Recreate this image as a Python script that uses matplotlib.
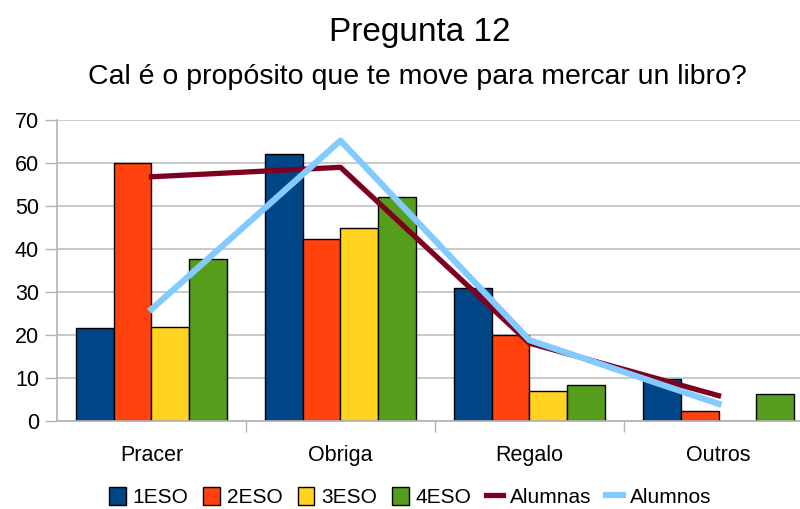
import numpy as np
import matplotlib
matplotlib.use("Agg")
import matplotlib.pyplot as plt

plt.rcParams["font.family"] = ["Liberation Sans", "DejaVu Sans"]

categorias = ["Pracer", "Obriga", "Regalo", "Outros"]
eso1 = [21.6, 62.0, 31.0, 9.7]
eso2 = [60.0, 42.3, 20.1, 2.3]
eso3 = [21.9, 45.0, 7.0, 0.0]
eso4 = [37.6, 52.2, 8.4, 6.3]
alumnas = [56.8, 59.0, 18.1, 5.9]
alumnos = [26.0, 65.2, 18.8, 4.0]

series = [("1ESO", eso1, "#004586"), ("2ESO", eso2, "#ff420e"),
          ("3ESO", eso3, "#ffd320"), ("4ESO", eso4, "#579d1c")]

fig = plt.figure(figsize=(8, 5.09), dpi=100)
ax = fig.add_axes([57 / 800, 1 - 421 / 509, 756 / 800, 301 / 509])

x = np.arange(len(categorias))
w = 0.2
for i, (nome, vals, cor) in enumerate(series):
    ax.bar(x + (i - 1.5) * w, vals, w, color=cor, edgecolor="black",
           linewidth=1, label=nome, zorder=2)

ax.plot(x, alumnas, color="#7e0021", lw=3.8, label="Alumnas", zorder=3)
ax.plot(x, alumnos, color="#83caff", lw=4.5, label="Alumnos", zorder=4)

ax.set_xlim(-0.5, 3.5)
ax.set_ylim(0, 70)
ax.set_yticks(range(0, 71, 10))
ax.yaxis.grid(True, color="#c0c0c0", lw=1.2)
ax.set_axisbelow(True)

ax.set_xticks(x)
ax.set_xticklabels(categorias, fontsize=15.5)
ax.tick_params(axis="x", length=0, pad=17)
ax.set_xticks([0.5, 1.5, 2.5], minor=True)
ax.tick_params(axis="x", which="minor", length=8, color="#b3b3b3", width=1)
ax.tick_params(axis="y", labelsize=15.5, length=9, color="#b3b3b3", width=1, pad=4)

for s in ["top", "right"]:
    ax.spines[s].set_visible(False)
for s in ["left", "bottom"]:
    ax.spines[s].set_color("#b3b3b3")
    ax.spines[s].set_linewidth(1.2)

fig.text(0.525, 0.937, "Pregunta 12", ha="center", va="center", fontsize=24)
fig.text(0.522, 0.848, "Cal é o propósito que te move para mercar un libro?",
         ha="center", va="center", fontsize=20.5)

handles, labels = ax.get_legend_handles_labels()
ordem = [2, 3, 4, 5, 0, 1]
fig.legend([handles[i] for i in ordem], [labels[i] for i in ordem],
           loc="center", bbox_to_anchor=(0.513, 0.023), ncol=6, frameon=False,
           fontsize=15, handlelength=0.8, handleheight=0.9, handletextpad=0.35,
           columnspacing=0.7)

fig.savefig("out.png", dpi=100)
